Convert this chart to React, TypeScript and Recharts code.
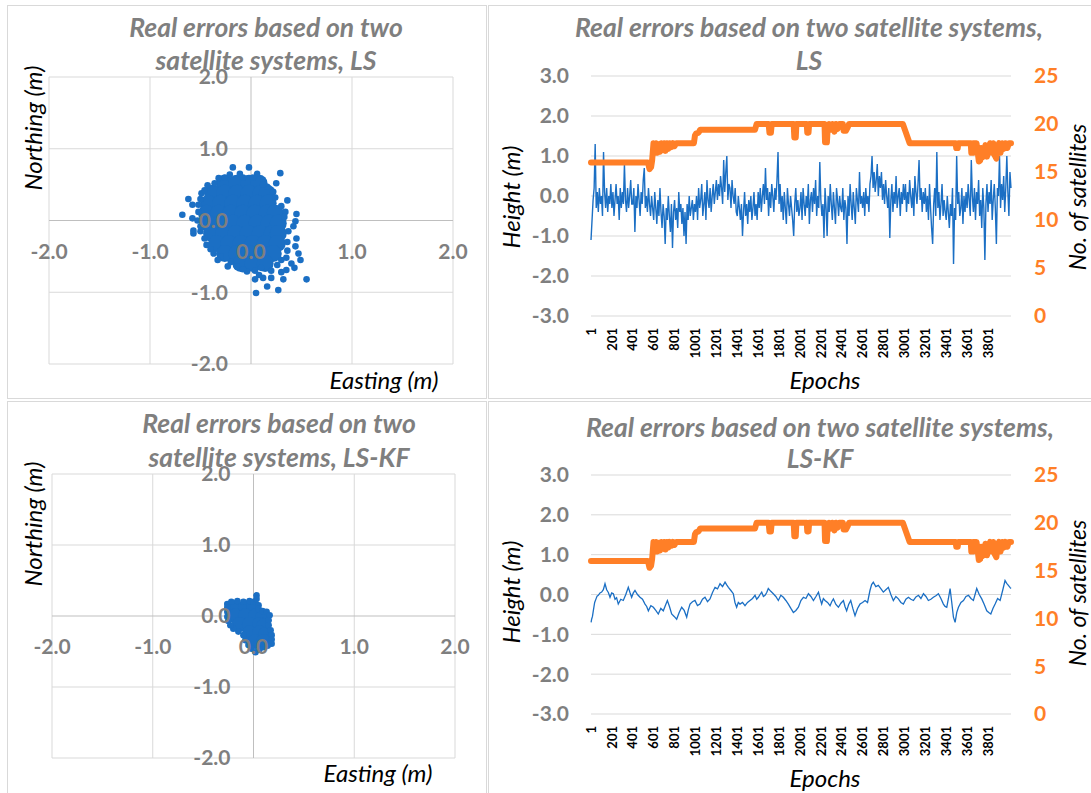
import React from 'react';
import {
  ScatterChart, Scatter, ComposedChart, Line, XAxis, YAxis, CartesianGrid,
  ReferenceLine, ReferenceDot,
} from 'recharts';

const FONT = 'Lato, "Open Sans", sans-serif';
const GRAY = '#7f7f7f';
const BLUE = '#1b6fc4';
const ORANGE = '#ff7f27';
const GRID = '#d9d9d9';
const AXIS = '#bfbfbf';

// axis ticks
const scatterTicks = [-2, -1, 0, 1, 2];
const heightTicks = [-3, -2, -1, 0, 1, 2, 3];
const satTicks = [0, 5, 10, 15, 20, 25];
const epochTicks = [1, 201, 401, 601, 801, 1001, 1201, 1401, 1601, 1801, 2001, 2201, 2401, 2601, 2801, 3001, 3201, 3401, 3601, 3801];

// LS scatter: dense core + scattered edge points  [easting, northing]
const lsCore: [number, number][] = [
  [-0.26, 0.52], [-0.14, 0.52], [-0.02, 0.52], [0.08, 0.52],
  [-0.38, 0.38], [-0.26, 0.38], [-0.14, 0.38], [-0.02, 0.38], [0.1, 0.38], [0.16, 0.38],
  [-0.42, 0.24], [-0.3, 0.24], [-0.18, 0.24], [-0.06, 0.24], [0.06, 0.24], [0.17, 0.24],
  [-0.44, 0.1], [-0.32, 0.1], [-0.2, 0.1], [-0.08, 0.1], [0.04, 0.1], [0.16, 0.1], [0.24, 0.1],
  [-0.42, -0.04], [-0.3, -0.04], [-0.18, -0.04], [-0.06, -0.04], [0.06, -0.04], [0.18, -0.04], [0.27, -0.04],
  [-0.39, -0.18], [-0.27, -0.18], [-0.15, -0.18], [-0.03, -0.18], [0.09, -0.18], [0.21, -0.18], [0.27, -0.18],
  [-0.34, -0.32], [-0.22, -0.32], [-0.1, -0.32], [0.02, -0.32], [0.14, -0.32], [0.26, -0.32],
  [-0.26, -0.46], [-0.14, -0.46], [-0.02, -0.46], [0.1, -0.46], [0.22, -0.46],
  [-0.1, -0.6], [0.02, -0.6], [0.14, -0.6],
];
const lsEdge: [number, number][] = [
  [-0.68, 0.08], [-0.62, 0.3], [-0.58, 0.22], [-0.58, 0.03], [-0.57, -0.18], [-0.5, -0.15],
  [-0.46, -0.25], [-0.37, -0.46], [-0.3, -0.5], [-0.23, -0.64], [-0.14, -0.64], [-0.04, -0.71],
  [0.05, -1.01], [0.04, -0.82], [0.12, -0.8], [0.16, -0.92], [0.27, -0.97], [0.32, -0.82],
  [0.55, -0.82], [0.43, -0.66], [0.35, -0.69], [0.49, -0.55], [0.47, -0.46], [0.44, -0.36],
  [0.35, -0.52], [0.45, -0.25], [0.42, -0.08], [0.44, -0.01], [0.45, 0.09], [0.34, 0.12],
  [0.36, 0.28], [0.24, 0.32], [0.25, 0.52], [0.29, 0.66], [0.16, 0.47], [0.06, 0.65],
  [-0.02, 0.74], [-0.18, 0.74], [-0.11, 0.65], [-0.21, 0.64], [-0.32, 0.59], [-0.43, 0.49],
  [-0.49, 0.38], [-0.57, -0.14], [-0.52, 0.12], [-0.53, 0.0], [-0.5, -0.08], [-0.44, -0.34],
  [-0.4, -0.4], [-0.33, -0.55], [-0.2, -0.58], [-0.08, -0.68], [0.04, -0.7], [0.1, -0.66],
  [0.2, -0.7], [0.26, -0.62], [0.3, -0.55], [0.36, -0.42], [0.36, -0.3], [0.37, -0.15],
  [0.33, 0.05], [0.3, 0.2], [0.22, 0.4], [0.12, 0.5], [0.02, 0.6], [-0.08, 0.6],
  [-0.26, 0.6], [-0.36, 0.52], [-0.46, 0.42], [-0.5, 0.3], [-0.52, 0.22], [0.2, -0.8],
  [0.08, -0.76], [0.3, -0.72], [0.4, -0.6],
];

// LS-KF scatter
const kfCore: [number, number][] = [
  [-0.18, 0.12], [-0.08, 0.12], [0.0, 0.12],
  [-0.18, 0.0], [-0.08, 0.0], [0.02, 0.0], [0.09, -0.02],
  [-0.14, -0.12], [-0.04, -0.12], [0.06, -0.12], [0.1, -0.14],
  [-0.04, -0.24], [0.06, -0.24], [0.12, -0.26],
  [0.02, -0.36], [0.1, -0.36],
];
const kfEdge: [number, number][] = [
  [-0.26, 0.17], [-0.22, 0.2], [-0.16, 0.21], [-0.1, 0.2], [-0.04, 0.21], [0.0, 0.2],
  [0.03, 0.29], [0.03, 0.24], [0.05, 0.15], [0.05, 0.1], [0.09, 0.07], [0.13, 0.06],
  [0.16, 0.01], [0.15, -0.06], [0.15, -0.13], [0.17, -0.2], [0.18, -0.27], [0.18, -0.33],
  [0.18, -0.39], [0.14, -0.42], [0.1, -0.44], [0.06, -0.47], [0.02, -0.51], [-0.02, -0.46],
  [-0.05, -0.41], [-0.08, -0.34], [-0.1, -0.27], [-0.15, -0.22], [-0.2, -0.18], [-0.23, -0.13],
  [-0.25, -0.07], [-0.26, -0.01], [-0.26, 0.06], [-0.26, 0.12],
];

// LS height error, one value every 10 epochs (0 .. 4020)
const lsHeight = [
  -1.1, -0.6, -0.1, 0.2, 1.3, -0.3, 0.1, -0.4, 0.2, -0.2, 0.0, -0.5, 1.1, 0.1, -0.3, 0.2, -0.4, 0.0, -0.2, 0.3,
  -0.3, 0.1, -0.5, -0.1, 0.3, -0.2, 0.0, -0.6, 0.2, -0.3, 0.1, -0.2, 0.8, -0.1, -0.4, 0.2, -0.3, 0.0, 0.4, -0.2,
  -0.2, 0.2, -0.9, 0.0, -0.3, 0.3, -0.1, -0.5, 0.1, -0.2, 0.4, 0.7, -0.3, 0.0, -0.4, 0.2, -0.2, -0.5, 0.0, -0.3,
  -0.6, 0.1, -0.3, -0.7, -0.1, -0.5, 0.2, -0.4, -0.8, -0.2, -0.5, -1.2, -0.3, -0.6, 0.0, -0.5, -0.9, -0.2, -1.3, -0.4,
  -0.1, -0.6, -0.3, -0.8, 0.1, -0.4, -0.2, -0.7, -0.3, -1.0, -0.4, -1.2, -0.2, -0.6, 0.0, -0.5, -0.3, -0.1, -0.6, -0.2,
  -0.4, 0.0, -0.6, 0.2, -0.3, -0.1, 0.3, -0.5, -0.2, 0.1, -0.6, 0.4, -0.1, -0.3, 0.2, -0.4, 0.0, 0.3, -0.2, 0.1,
  0.4, -0.1, 0.3, 0.0, 0.5, 0.2, -0.2, 0.9, 0.1, 0.6, 1.0, -0.1, 0.3, 0.2, -0.3, 0.4, 0.0, -0.2, 0.2, -0.4,
  -0.5, 0.0, -0.3, -0.6, -0.2, -1.0, -0.4, 0.1, -0.5, -0.2, -0.7, -0.1, -0.4, 0.0, -0.6, -0.3, 0.1, -0.5, -0.2, -0.6,
  0.1, -0.3, 0.2, -0.4, 0.0, 0.3, -0.2, 0.7, -0.1, 0.2, -0.5, 0.1, -0.3, 0.3, 0.0, -0.4, 0.2, -0.1, 0.4, 1.1,
  -0.2, 0.3, -0.4, 0.0, -0.6, 0.1, -0.3, -0.7, 0.2, -0.2, -0.5, 0.0, -0.3, -0.6, -1.0, -0.2, 0.2, -0.4, -0.1, -0.5,
  -0.3, 0.1, -0.6, 0.2, -0.2, -0.5, 0.0, -0.3, 0.3, -0.7, -0.1, 0.1, -0.4, 0.2, -0.2, 0.4, -0.5, 0.0, -0.3, 0.85,
  -0.1, -0.5, -0.2, -1.05, 0.2, -0.3, -1.0, 0.0, -0.4, 0.3, -0.2, -0.6, 0.1, -0.3, -0.7, 0.2, -0.1, -0.5, 0.0, -0.3,
  -0.4, 0.2, -0.6, -0.1, -0.3, -1.2, 0.0, -0.5, 0.3, -0.2, -0.6, 0.1, -0.3, -0.7, 0.2, -0.1, -0.4, 0.6, -0.2, 0.0,
  -0.3, 0.1, -0.5, 0.2, -0.2, 0.0, -0.4, 0.3, 0.5, 1.0, 0.2, 0.6, 0.1, 0.4, 0.8, 0.0, 0.5, 0.2, 0.6, -0.1,
  0.3, -0.2, 0.4, 0.0, -0.3, 0.2, -1.05, -0.1, 0.3, -0.4, 0.1, -0.2, 0.5, -0.3, 0.0, 0.2, -0.5, 0.1, -0.2, 0.3,
  -0.1, 0.3, -0.4, 0.1, -0.2, 0.4, 0.0, -0.3, 0.2, -0.5, 0.5, 0.1, -0.2, 0.3, 0.9, -0.1, 0.2, -0.4, 0.1, -0.2,
  0.2, -0.4, 0.0, -0.6, 0.3, -0.3, -0.8, -1.2, -0.2, 0.2, -0.5, 1.1, -0.3, 0.1, -0.6, -0.2, 0.3, -0.5, -0.1, -0.4,
  -0.6, 0.0, -0.4, -0.8, -0.2, -0.5, 0.2, -1.7, -0.3, -0.6, 1.0, -0.2, 0.1, -0.5, -0.3, 0.2, -0.7, 0.0, -0.4, 0.1,
  -0.3, 0.3, -0.1, -0.5, 0.9, 0.0, -0.4, 0.2, -0.6, 0.1, -0.2, 0.4, -0.5, -0.1, -0.8, 0.2, -0.3, -1.6, -0.2, 0.3,
  -0.4, 0.1, -0.2, 0.4, -0.6, -0.1, 0.3, -0.3, -1.2, 0.2, 0.0, 1.0, -0.3, 0.3, -0.1, 0.5, -0.4, 0.2, 1.0, 0.1,
  -0.5, 0.6, 0.2,
];

// LS-KF height error  [epoch, value]
const kfHeight: [number, number][] = [
  [1, -0.7], [6, -0.62], [14, -0.55], [22, -0.41], [35, -0.2], [48, -0.11], [58, -0.04], [70, -0.02],
  [86, 0.04], [102, 0.06], [118, 0.12], [134, 0.27], [150, 0.12], [166, 0.05], [182, -0.07], [198, 0.04],
  [214, 0.02], [230, -0.12], [245, -0.08], [261, -0.24], [285, -0.12], [309, -0.15], [333, 0.0], [357, 0.18],
  [373, 0.05], [389, -0.07], [405, 0.04], [421, 0.1], [445, 0.0], [469, -0.07], [493, -0.12], [517, -0.24],
  [533, -0.3], [549, -0.41], [573, -0.28], [597, -0.32], [620, -0.4], [644, -0.49], [668, -0.35], [692, -0.41],
  [711, -0.28], [731, -0.15], [751, -0.3], [772, -0.49], [796, -0.55], [820, -0.62], [844, -0.45], [868, -0.32],
  [892, -0.4], [916, -0.57], [932, -0.38], [948, -0.24], [971, -0.18], [995, -0.15], [1019, -0.28], [1043, -0.24],
  [1067, -0.12], [1091, -0.07], [1115, -0.18], [1139, -0.11], [1163, 0.05], [1187, 0.18], [1211, 0.14], [1235, 0.27],
  [1259, 0.2], [1283, 0.31], [1299, 0.24], [1315, 0.18], [1339, 0.1], [1362, 0.02], [1378, -0.2], [1394, -0.32],
  [1410, -0.2], [1426, -0.24], [1450, -0.2], [1474, -0.28], [1498, -0.2], [1522, -0.15], [1546, -0.1], [1570, -0.02],
  [1586, -0.12], [1602, -0.07], [1618, 0.0], [1634, 0.06], [1650, -0.05], [1666, -0.02], [1682, 0.05], [1697, 0.15],
  [1721, 0.08], [1745, 0.02], [1769, -0.05], [1793, -0.15], [1817, -0.02], [1841, -0.07], [1865, -0.15], [1889, -0.24],
  [1913, -0.35], [1937, -0.45], [1961, -0.4], [1985, -0.32], [2009, -0.15], [2033, -0.07], [2057, -0.1], [2081, 0.02],
  [2105, -0.05], [2129, -0.15], [2153, -0.05], [2177, 0.06], [2192, -0.1], [2208, -0.24], [2224, -0.1], [2240, -0.15],
  [2264, -0.2], [2288, -0.28], [2304, -0.18], [2320, -0.11], [2344, -0.25], [2368, -0.32], [2392, -0.22], [2416, -0.15],
  [2431, -0.3], [2447, -0.41], [2466, -0.25], [2486, -0.15], [2506, -0.35], [2527, -0.53], [2551, -0.35], [2575, -0.24],
  [2599, -0.2], [2623, -0.15], [2647, -0.2], [2670, 0.1], [2686, 0.25], [2702, 0.31], [2726, 0.2], [2750, 0.23],
  [2774, 0.15], [2798, 0.06], [2822, 0.12], [2846, 0.18], [2870, 0.0], [2894, -0.15], [2918, -0.05], [2942, -0.11],
  [2966, -0.2], [2990, -0.24], [3014, -0.12], [3038, -0.07], [3062, -0.12], [3086, -0.15], [3110, -0.06], [3134, -0.02],
  [3158, -0.1], [3182, 0.02], [3206, -0.05], [3229, -0.15], [3253, -0.12], [3277, -0.07], [3301, -0.03], [3325, 0.02],
  [3349, -0.1], [3373, -0.24], [3389, -0.3], [3405, -0.32], [3421, -0.1], [3437, 0.15], [3453, -0.2], [3469, -0.57],
  [3485, -0.7], [3501, -0.45], [3517, -0.32], [3541, -0.2], [3565, -0.15], [3589, -0.05], [3613, -0.02], [3637, -0.1],
  [3660, -0.15], [3676, 0.0], [3692, 0.15], [3716, 0.0], [3740, -0.11], [3764, -0.25], [3788, -0.41], [3807, -0.45],
  [3827, -0.49], [3847, -0.35], [3868, -0.24], [3892, -0.1], [3916, -0.15], [3940, 0.1], [3963, 0.35], [3979, 0.28],
  [3995, 0.23], [4010, 0.18], [4020, 0.15],
];

// number of satellites  [epoch, count]
const satCount: [number, number][] = [
  [0, 16], [545, 16], [560, 15.3], [575, 15.5], [585, 16.2], [598, 18], [610, 17.2], [622, 18],
  [635, 17], [648, 17.9], [660, 17.1], [672, 18], [688, 17.3], [700, 18], [712, 17.2], [726, 18],
  [740, 17.4], [752, 18], [770, 17.6], [785, 18], [800, 17.7], [815, 18], [985, 18], [995, 18.8],
  [1005, 19], [1030, 19.1], [1045, 19.4], [1570, 19.4], [1585, 20], [1700, 20], [1708, 19.1],
  [1722, 19.1], [1730, 20], [1940, 20], [1946, 18.6], [1960, 18.6], [1966, 20], [2065, 20],
  [2070, 19.1], [2082, 19.1], [2088, 20], [2235, 20], [2240, 18.1], [2258, 18.1], [2265, 19.5],
  [2280, 20], [2300, 19.4], [2310, 20], [2330, 19.2], [2345, 20], [2360, 19.5], [2375, 20],
  [2410, 20], [2418, 19.3], [2440, 19.3], [2455, 19.6], [2470, 20], [2985, 20], [3050, 18],
  [3490, 18], [3496, 17.5], [3510, 17.5], [3516, 18], [3635, 18], [3640, 17], [3655, 17],
  [3660, 18], [3690, 18], [3700, 17.2], [3712, 16.1], [3725, 16.2], [3735, 17.5], [3745, 16.5],
  [3760, 16.8], [3775, 17.8], [3790, 16.6], [3805, 17.4], [3820, 18], [3835, 17], [3850, 18],
  [3865, 16.7], [3880, 16.4], [3892, 17.6], [3905, 18], [3920, 17], [3935, 18], [3950, 17.4],
  [3965, 18], [3985, 17.5], [4000, 18], [4020, 18],
];

const pts = (a: [number, number][]) => a.map(([x, y]) => ({ x, y }));
const lsHeightData = lsHeight.map((v, i) => ({ e: i * 10, v }));
const kfHeightData = kfHeight.map(([e, v]) => ({ e, v }));
const satData = satCount.map(([e, v]) => ({ e, v }));

const dot = (r: number) => (p: any) => <circle cx={p.cx} cy={p.cy} r={r} fill={BLUE} />;

function Txt({ x, y, children, size = 24, bold = false, italic = false, color = '#000', rotate = false }: any) {
  return (
    <div
      style={{
        position: 'absolute', left: x, top: y, whiteSpace: 'nowrap',
        transform: `translate(-50%, -50%)${rotate ? ' rotate(-90deg)' : ''}`,
        fontFamily: FONT, fontSize: size, fontWeight: bold ? 700 : 400,
        fontStyle: italic ? 'italic' : 'normal', color, lineHeight: 1,
      }}
    >
      {children}
    </div>
  );
}

function Box({ left, top, width, height }: any) {
  return <div style={{ position: 'absolute', left, top, width, height, border: `1px solid ${GRID}`, boxSizing: 'border-box' }} />;
}

const tickFont = { fill: GRAY, fontSize: 21, fontWeight: 700, fontFamily: FONT };

function ScatterPanel({ top, height, margin, core, edge, coreR }: any) {
  return (
    <div style={{ position: 'absolute', left: 0, top }}>
      <ScatterChart width={487} height={height} margin={margin}>
        <XAxis type="number" dataKey="x" domain={[-2, 2]} ticks={scatterTicks} hide />
        <YAxis type="number" dataKey="y" domain={[-2, 2]} ticks={scatterTicks} hide />
        {scatterTicks.filter((v) => v !== 0).map((v) => (
          <ReferenceLine key={'gx' + v} x={v} stroke={GRID} ifOverflow="visible" />
        ))}
        {scatterTicks.filter((v) => v !== 0).map((v) => (
          <ReferenceLine key={'gy' + v} y={v} stroke={GRID} ifOverflow="visible" />
        ))}
        <ReferenceLine x={0} stroke={AXIS} />
        <ReferenceLine y={0} stroke={AXIS} />
        <Scatter data={pts(core)} shape={dot(coreR)} isAnimationActive={false} />
        <Scatter data={pts(edge)} shape={dot(3.3)} isAnimationActive={false} />
        {scatterTicks.map((v) => (
          <ReferenceDot
            key={'lx' + v} x={v} y={0} r={0} ifOverflow="visible" zIndex={2000}
            shape={(p: any) => (
              <text x={p.cx} y={p.cy + 31} dy="0.35em" textAnchor="middle" {...tickFont}>{v.toFixed(1)}</text>
            )}
          />
        ))}
        {scatterTicks.map((v) => (
          <ReferenceDot
            key={'ly' + v} x={0} y={v} r={0} ifOverflow="visible" zIndex={2000}
            shape={(p: any) => (
              <text x={p.cx - 23} y={p.cy} dy="0.35em" textAnchor="end" {...tickFont}>{v.toFixed(1)}</text>
            )}
          />
        ))}
      </ScatterChart>
    </div>
  );
}

const EpochTick = (props: any) => {
  const { x, y, payload } = props;
  return (
    <text
      x={x} y={y} dy="0.35em" textAnchor="end" transform={`rotate(-90, ${x}, ${y})`}
      fill="#000" fontSize={13} fontWeight={700} fontFamily={FONT}
    >
      {payload.value}
    </text>
  );
};

function HeightPanel({ top, height, marginTop, xHeight, blue, blueWidth }: any) {
  return (
    <div style={{ position: 'absolute', left: 488, top }}>
      <ComposedChart width={603} height={height} margin={{ top: marginTop, right: 0, bottom: 0, left: 0 }}>
        <CartesianGrid yAxisId="h" vertical={false} stroke={GRID} />
        <XAxis
          dataKey="e" type="number" domain={[0, 4020]} ticks={epochTicks} interval={0}
          height={xHeight} axisLine={false} tickLine={false} tickSize={0} tickMargin={12}
          tick={<EpochTick />}
        />
        <YAxis
          yAxisId="h" domain={[-3, 3]} ticks={heightTicks} width={103} axisLine={false}
          tickLine={false} tickSize={0} tickMargin={22} tick={tickFont}
          tickFormatter={(v: number) => v.toFixed(1)}
        />
        <YAxis
          yAxisId="s" orientation="right" domain={[0, 25]} ticks={satTicks} width={80}
          axisLine={false} tickLine={false} tickSize={0} tickMargin={23}
          tick={{ ...tickFont, fill: ORANGE }}
        />
        <Line yAxisId="h" data={blue} dataKey="v" stroke={BLUE} strokeWidth={blueWidth} dot={false} isAnimationActive={false} />
        <Line
          yAxisId="s" data={satData} dataKey="v" stroke={ORANGE} strokeWidth={6} dot={false}
          strokeLinejoin="round" strokeLinecap="round" isAnimationActive={false}
        />
      </ComposedChart>
    </div>
  );
}

export default function App() {
  return (
    <div style={{ position: 'absolute', left: 0, top: 0, width: 1091, height: 793, background: '#fff', overflow: 'hidden' }}>
      <Box left={7} top={5} width={480} height={394} />
      <Box left={488} top={5} width={610} height={394} />
      <Box left={7} top={401} width={480} height={400} />
      <Box left={488} top={401} width={610} height={400} />

      <ScatterPanel top={0} height={398} margin={{ top: 77, right: 34, bottom: 34, left: 49 }} core={lsCore} edge={lsEdge} coreR={8.5} />
      <ScatterPanel top={398} height={395} margin={{ top: 76, right: 32, bottom: 35, left: 52 }} core={kfCore} edge={kfEdge} coreR={7.5} />
      <HeightPanel top={0} height={398} marginTop={76} xHeight={82} blue={lsHeightData} blueWidth={1.4} />
      <HeightPanel top={398} height={395} marginTop={77} xHeight={79} blue={kfHeightData} blueWidth={1.3} />

      {/* titles */}
      <Txt x={266} y={27} size={26.5} bold italic color={GRAY}>Real errors based on two</Txt>
      <Txt x={266} y={60} size={26.5} bold italic color={GRAY}>satellite systems, LS</Txt>
      <Txt x={809} y={27} size={26.5} bold italic color={GRAY}>Real errors based on two satellite systems,</Txt>
      <Txt x={809} y={60} size={26.5} bold italic color={GRAY}>LS</Txt>
      <Txt x={279} y={423} size={26.5} bold italic color={GRAY}>Real errors based on two</Txt>
      <Txt x={279} y={457} size={26.5} bold italic color={GRAY}>satellite systems, LS-KF</Txt>
      <Txt x={820} y={427} size={26.5} bold italic color={GRAY}>Real errors based on two satellite systems,</Txt>
      <Txt x={820} y={458} size={26.5} bold italic color={GRAY}>LS-KF</Txt>

      {/* axis titles */}
      <Txt x={33} y={128} italic rotate>Northing (m)</Txt>
      <Txt x={384} y={380} italic>Easting (m)</Txt>
      <Txt x={33} y={524} italic rotate>Northing (m)</Txt>
      <Txt x={378} y={773} italic>Easting (m)</Txt>
      <Txt x={511} y={197} italic rotate>Height (m)</Txt>
      <Txt x={1077} y={197} size={23} italic rotate>No. of satellites</Txt>
      <Txt x={825} y={380} italic>Epochs</Txt>
      <Txt x={511} y={592} italic rotate>Height (m)</Txt>
      <Txt x={1077} y={593} size={23} italic rotate>No. of satellites</Txt>
      <Txt x={825} y={778} italic>Epochs</Txt>
    </div>
  );
}
